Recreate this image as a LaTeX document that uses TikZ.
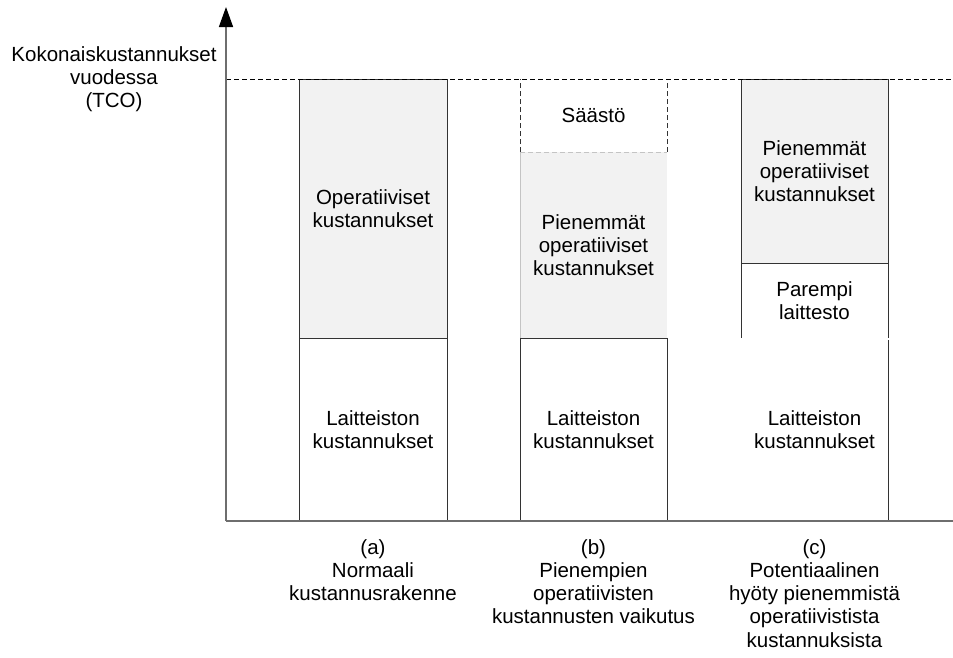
\documentclass[tikz,border=0pt]{standalone}
\usepackage{fontspec}
\setmainfont{Liberation Sans}
\usetikzlibrary{arrows.meta}
\definecolor{opfill}{HTML}{F2F2F2}
\definecolor{axisgray}{HTML}{6E6E6E}
\definecolor{faintline}{HTML}{C4C4C4}
\definecolor{boxline}{HTML}{333333}
\begin{document}
\begin{tikzpicture}[x=1pt,y=-1pt,
  lbl/.style={align=center,inner sep=0pt,font=\fontsize{20.5}{23.3}\selectfont},
  edge/.style={draw=boxline,line width=1pt},
  dashedge/.style={draw=boxline,line width=1pt,dash pattern=on 5pt off 3pt},
  faintedge/.style={draw=faintline,line width=1pt},
  faintdash/.style={draw=faintline,line width=1pt,dash pattern=on 5pt off 3pt},
  axisline/.style={draw=axisgray,line width=1.5pt},
  gray fill/.style={fill=opfill}]
\useasboundingbox (0,0) rectangle (953,657);

% axes
\coordinate (origin) at (226,521);
\coordinate (ytop) at (226,7);
\coordinate (xend) at (953,521);
\coordinate (refL) at (226,79);
\coordinate (refR) at (953,79);

% column (a): normal cost structure
\fill[gray fill] (299,79) rectangle (447,338);
\draw[edge] (299,521) rectangle (447,79);
\draw[edge] (299,338) -- (447,338);

% column (b): effect of lower operating costs
\fill[gray fill] (520,152) rectangle (667,338);
\draw[faintedge] (520,152) -- (520,338);
\draw[faintdash] (520,152) -- (667,152);
\draw[dashedge] (520,152) -- (520,79);
\draw[dashedge] (667,152) -- (667,79);
\draw[edge] (520,338) rectangle (667,521);

% column (c): potential benefit
\fill[gray fill] (741,79) rectangle (888,263);
\draw[edge] (741,79) rectangle (888,263);
\draw[edge] (741,263) -- (741,338);
\draw[edge] (888,263) -- (888,338);
\draw[edge] (888,340) -- (888,521) -- (741,521);

% reference level (total cost)
\draw[line width=1pt,dash pattern=on 5pt off 3pt] (refL) -- (refR);

% axes on top
\draw[axisline] (origin) -- (xend);
\draw[axisline,-{Triangle[width=14pt,length=20pt,color=black,fill=black]}] (origin) -- (ytop);

% axis title
\node[lbl,anchor=north] (ytitle) at (114,46) {Kokonaiskustannukset\\vuodessa\\(TCO)};

% texts inside the bars
\node[lbl] (aop) at (373,208.5) {Operatiiviset\\kustannukset};
\node[lbl] (ahw) at (373,429.5) {Laitteiston\\kustannukset};
\node[lbl] (bsave) at (593.5,115.5) {Säästö};
\node[lbl] (bop) at (593.5,245) {Pienemmät\\operatiiviset\\kustannukset};
\node[lbl] (bhw) at (593.5,429.5) {Laitteiston\\kustannukset};
\node[lbl] (cop) at (814.5,171) {Pienemmät\\operatiiviset\\kustannukset};
\node[lbl] (cbetter) at (814.5,300.5) {Parempi\\laittesto};
\node[lbl] (chw) at (814.5,429.5) {Laitteiston\\kustannukset};

% captions
\node[lbl,anchor=north] (capa) at (373,539) {(a)\\Normaali\\kustannusrakenne};
\node[lbl,anchor=north] (capb) at (593.5,539) {(b)\\Pienempien\\operatiivisten\\kustannusten vaikutus};
\node[lbl,anchor=north] (capc) at (814.5,539) {(c)\\Potentiaalinen\\hyöty pienemmistä\\operatiivistista\\kustannuksista};
\end{tikzpicture}
\end{document}
